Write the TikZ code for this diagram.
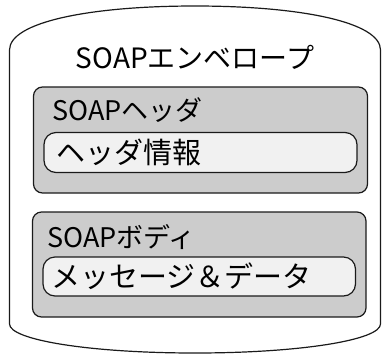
\documentclass[tikz,border=0pt]{standalone}
\usepackage{fontspec}
\setmainfont{Noto Sans CJK JP}
\definecolor{boxgray}{HTML}{CCCCCC}
\definecolor{pillfill}{HTML}{F1F1F1}
\definecolor{linecol}{HTML}{1A1A1A}
\begin{document}
\begin{tikzpicture}[x=1pt,y=-1pt,
  envline/.style={draw=linecol,line width=1.2pt},
  graybox/.style={draw=linecol,line width=1.2pt,fill=boxgray,rounded corners=9pt,inner sep=0pt},
  pill/.style={draw=linecol,line width=1.2pt,fill=pillfill,rounded corners=12pt,inner sep=0pt},
  titletext/.style={inner sep=0pt,font=\fontsize{28pt}{32pt}\selectfont},
  labeltext/.style={inner sep=0pt,anchor=base west,font=\fontsize{27pt}{32pt}\selectfont},
  pilltext/.style={inner sep=0pt,anchor=base west,font=\fontsize{29pt}{34pt}\selectfont}]
\useasboundingbox (0,0) rectangle (382,354);
% envelope outline
\draw[envline] (9.5,324) -- (9.5,50)
  .. controls (9.5,22) and (90,6) .. (195,6)
  .. controls (300,6) and (380.5,22) .. (380.5,50)
  -- (380.5,324)
  .. controls (380.5,340) and (300,353) .. (195,353)
  .. controls (90,353) and (9.5,340) .. (9.5,324) -- cycle;
\node[titletext,anchor=base] (title) at (195,68) {SOAPエンベロープ};
% header
\node[graybox,minimum width=334pt,minimum height=106pt] (hdr) at (200.5,140) {};
\node[labeltext] (hdrlabel) at (52,120) {SOAPヘッダ};
\node[pill,minimum width=313pt,minimum height=40pt] (hdrpill) at (200.5,152.5) {};
\node[pilltext] (hdrtext) at (56,163) {ヘッダ情報};
% body
\node[graybox,minimum width=333.5pt,minimum height=105pt] (body) at (199.25,264.5) {};
\node[labeltext] (bodylabel) at (47,247) {SOAPボディ};
\node[pill,minimum width=312.5pt,minimum height=39pt] (bodypill) at (199.25,276.5) {};
\node[pilltext] (bodytext) at (51,287) {メッセージ＆データ};
\end{tikzpicture}
\end{document}
